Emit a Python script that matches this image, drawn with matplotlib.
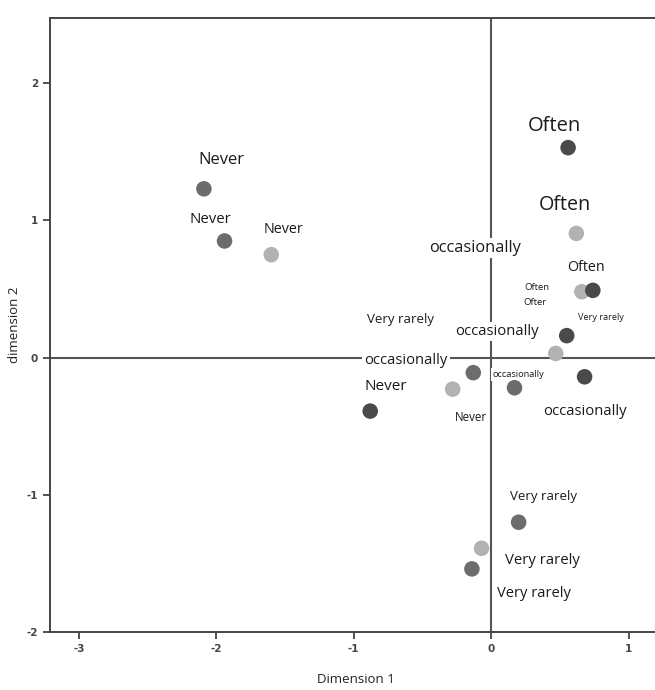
import matplotlib.pyplot as plt

# category points (dimension 1, dimension 2) and their grey shade
pt_x = [-2.09, -1.94, -1.60, 0.56, 0.62, 0.66, 0.74, 0.55, 0.47, 0.68,
        -0.13, -0.28, 0.17, -0.88, 0.20, -0.07, -0.14]
pt_y = [1.23, 0.85, 0.75, 1.53, 0.905, 0.48, 0.49, 0.16, 0.03, -0.14,
        -0.11, -0.23, -0.22, -0.39, -1.20, -1.39, -1.54]
pt_shade = ['mid', 'mid', 'light', 'dark', 'light', 'light', 'dark', 'dark', 'light', 'dark',
            'mid', 'light', 'mid', 'dark', 'mid', 'light', 'mid']

# text labels
lab_text = ['Never', 'Never', 'Never', 'Often', 'Often', 'occasionally', 'Often', 'Often',
            'Ofter', 'Very rarely', 'Very rarely', 'occasionally', 'occasionally',
            'occasionally', 'Never', 'Never', 'occasionally', 'Very rarely',
            'Very rarely', 'Very rarely']
lab_x = [-1.96, -2.04, -1.51, 0.46, 0.54, -0.12, 0.69, 0.33, 0.32, -0.66, 0.80, 0.04,
         -0.62, 0.20, -0.77, -0.15, 0.68, 0.38, 0.37, 0.31]
lab_y = [1.44, 1.01, 0.93, 1.69, 1.11, 0.80, 0.66, 0.51, 0.40, 0.28, 0.29, 0.19,
         -0.02, -0.12, -0.21, -0.44, -0.39, -1.01, -1.48, -1.72]
lab_size = [12, 10.8, 10.4, 14.5, 14.2, 11.8, 10.3, 6.8, 6.8, 9.5, 6.6, 10.7,
            10.6, 6.7, 11, 8.3, 10.7, 9.5, 10.7, 10.6]

x_ticks = [-3, -2, -1, 0, 1]
y_ticks = [-2, -1, 0, 1, 2]

colors = {'dark': '#4a4a4a', 'mid': '#6c6c6c', 'light': '#b2b2b2'}

fig = plt.figure(figsize=(6.55, 6.9), dpi=100)
ax = fig.add_axes([50 / 655, 58 / 690, 1 - 50 / 655 + 0.01, 614 / 690])
ax.set_xlim(-3.21, 1.24)
ax.set_ylim(-2.0, 2.475)

ax.axhline(0, color='#555555', lw=1.5, zorder=1)
ax.axvline(0, color='#555555', lw=1.5, zorder=1)

ax.scatter(pt_x, pt_y, s=125, c=[colors[s] for s in pt_shade], edgecolors='none', zorder=4)

for t, x, y, fs in zip(lab_text, lab_x, lab_y, lab_size):
    ax.text(x, y, t, fontsize=fs, family='Open Sans', color='#1a1a1a',
            ha='center', va='center', zorder=3,
            bbox=dict(facecolor='white', edgecolor='none', pad=1.5))

ax.set_xticks(x_ticks)
ax.set_yticks(y_ticks)
ax.set_xticklabels([str(v) for v in x_ticks], fontsize=7.5, fontweight='bold', color='#444444')
ax.set_yticklabels([str(v) for v in y_ticks], fontsize=7.5, fontweight='bold', color='#444444')
ax.tick_params(direction='out', length=5, width=1.3, color='#444444')

for side in ['left', 'bottom', 'top']:
    ax.spines[side].set_color('#444444')
    ax.spines[side].set_linewidth(1.4)
ax.spines['right'].set_visible(False)

ax.set_xlabel('Dimension 1', fontsize=9.5, family='Open Sans', color='#222222', labelpad=14)
ax.set_ylabel('dimension 2', fontsize=9.5, family='Open Sans', color='#222222', labelpad=4)

plt.savefig('out.png', dpi=100)
